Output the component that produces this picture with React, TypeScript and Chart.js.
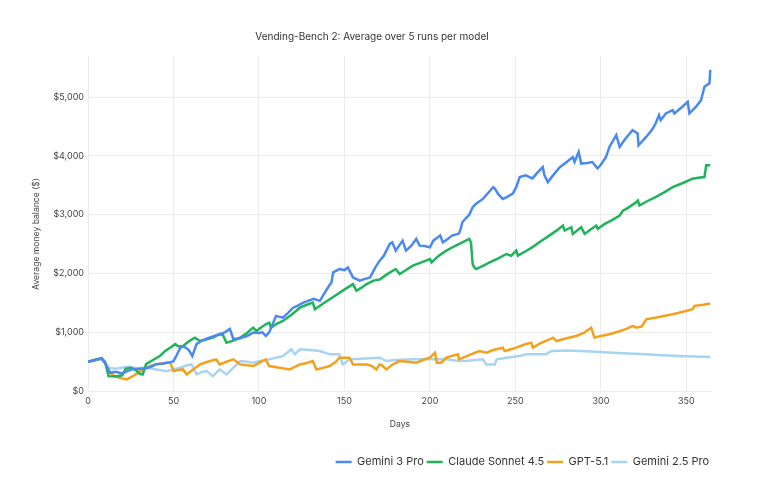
import React, { useEffect, useRef } from 'react';
import { Chart, registerables } from 'chart.js';

Chart.register(...registerables);

const chartTitle = 'Vending-Bench 2: Average over 5 runs per model';
const xAxisTitle = 'Days';
const yAxisTitle = 'Average money balance ($)';
const seriesNames = ['Gemini 3 Pro', 'Claude Sonnet 4.5', 'GPT-5.1', 'Gemini 2.5 Pro'];
const seriesColors = ['#4A8AF0', '#1FB35C', '#F2A11E', '#A8D4F4'];
const xTickValues = [0, 50, 100, 150, 200, 250, 300, 350];
const yTickValues = [0, 1000, 2000, 3000, 4000, 5000];

// [day, average money balance]
const gemini3Pro: [number, number][] = [
  [0, 500], [4, 530], [8, 560], [10, 480], [13, 313], [16, 330], [20, 300], [23, 340], [26, 375], [30, 380],
  [34, 390], [37, 420], [40, 460], [44, 470], [48, 490], [50, 510], [52, 620], [54, 740], [56, 760], [59, 700],
  [61, 597], [63.5, 800], [66, 850], [69, 887], [73, 930], [77, 970], [80, 1000], [83, 1058], [85, 887], [89, 900],
  [93, 938], [96.6, 996], [100, 990], [102, 1000], [104, 940], [106, 1000], [108, 1140], [110, 1280], [114, 1250],
  [117, 1330], [120, 1420], [123, 1460], [126, 1507], [129, 1540], [132, 1570], [135.6, 1536], [138, 1650],
  [141, 1792], [142.4, 1850], [143.4, 2020], [147, 2077], [150, 2060], [152, 2105], [155, 1934], [159, 1878],
  [162, 1910], [165, 1934], [168, 2100], [170.6, 2219], [173, 2300], [176.5, 2503], [178, 2530], [180, 2390],
  [184, 2560], [186, 2390], [189, 2470], [192, 2589], [194, 2475], [197, 2470], [200, 2446], [202, 2560],
  [206, 2646], [207.6, 2532], [210, 2580], [213, 2646], [217, 2680], [218, 2760], [219, 2873], [221, 2940],
  [223, 3000], [225, 3130], [227, 3186], [231, 3270], [234, 3370], [237, 3470], [238, 3447], [240, 3350],
  [242.6, 3270], [245, 3300], [248.5, 3360], [250.5, 3470], [252.5, 3640], [256, 3670], [260, 3619], [263, 3720],
  [266, 3812], [267, 3670], [269, 3556], [272, 3670], [276, 3810], [280, 3897], [283.6, 3980], [284.6, 3897],
  [287, 4068], [288.5, 3870], [292, 3880], [295, 3897], [298, 3790], [300, 3850], [303, 3983], [305, 4153],
  [309, 4353], [311, 4153], [314, 4280], [318.5, 4438], [321.5, 4381], [322, 4182], [326.5, 4324], [330, 4450],
  [332, 4552], [334, 4694], [335, 4609], [338, 4723], [342, 4780], [343, 4723], [347, 4820], [350.8, 4922],
  [351.8, 4723], [355.7, 4837], [358.6, 4950], [360.6, 5177], [363.5, 5234], [364, 5463],
];

const claudeSonnet45: [number, number][] = [
  [0, 500], [4, 530], [8, 560], [10, 500], [12, 256], [16, 250], [20, 270], [22, 380], [25, 398], [28, 360],
  [30, 300], [32, 285], [34, 460], [38, 530], [42, 597], [45, 680], [48, 740], [51, 800], [53, 760], [55.6, 768],
  [59, 850], [62.5, 910], [65.5, 853], [69, 880], [73, 910], [77, 970], [79, 950], [81, 825], [85, 860], [89, 910],
  [93, 990], [96.6, 1080], [98.6, 1024], [101, 1080], [104, 1138], [106, 1166], [107, 1080], [110, 1140],
  [114, 1195], [119, 1300], [124, 1420], [128, 1470], [131.5, 1507], [132.7, 1394], [138, 1500], [143, 1593],
  [149, 1710], [155, 1821], [157, 1707], [160, 1760], [163, 1821], [167, 1880], [170.6, 1900], [175, 1990],
  [180, 2077], [182.3, 1991], [186, 2060], [190, 2134], [195, 2190], [200, 2248], [201, 2190], [205, 2300],
  [209.6, 2390], [214, 2460], [219, 2530], [223, 2589], [224, 2532], [225, 2162], [226, 2105], [227, 2077],
  [231, 2130], [235, 2190], [240, 2260], [244.7, 2333], [247.6, 2304], [250.5, 2390], [251.5, 2304], [256, 2380],
  [260, 2450], [264, 2532], [270, 2650], [274, 2730], [277.8, 2816], [278.8, 2731], [282.7, 2788], [283.6, 2674],
  [286, 2730], [288.5, 2788], [290.5, 2674], [294, 2750], [297.3, 2816], [298.2, 2759], [302, 2840], [306, 2900],
  [311, 2987], [313, 3073], [315, 3100], [318, 3160], [320.6, 3214], [321.6, 3243], [322.6, 3158], [327, 3230],
  [332, 3300], [337, 3380], [342, 3470], [348, 3540], [353.6, 3613], [357, 3630], [360.6, 3641], [361.6, 3840],
  [364, 3840],
];

const gpt51: [number, number][] = [
  [0, 500], [4, 530], [8, 550], [10, 480], [12, 330], [15, 270], [18, 230], [22.6, 200], [26, 250], [30.4, 341],
  [33, 380], [36, 427], [40, 460], [43, 470], [46, 484], [48, 490], [50, 341], [53, 360], [55.6, 370], [57.7, 285],
  [61.5, 370], [65.5, 455], [70, 500], [75, 541], [77, 455], [81, 500], [85, 541], [89, 455], [93, 440],
  [96.6, 427], [100, 480], [104, 541], [106, 427], [112, 400], [118, 370], [124, 455], [128, 480], [131.5, 512],
  [133.6, 370], [138, 400], [141.4, 427], [145, 500], [147, 569], [153, 569], [155, 455], [163, 455], [166, 430],
  [168.7, 370], [170.6, 455], [172, 440], [174.5, 370], [178, 450], [182, 512], [187, 500], [192, 484], [196, 530],
  [200, 569], [203, 654], [204, 484], [206.7, 484], [209.6, 569], [213, 600], [216.4, 626], [217, 541], [222, 600],
  [226, 650], [229, 683], [233, 654], [237, 700], [242.7, 740], [243.7, 683], [247, 710], [250.5, 740], [255, 790],
  [259.3, 825], [260.2, 740], [265, 820], [270, 880], [272, 910], [274, 853], [280, 900], [285.6, 939], [290, 990],
  [294.3, 1080], [296.3, 910], [300, 940], [305, 967], [310, 1010], [315, 1060], [318.7, 1110], [320.7, 1080],
  [324, 1100], [326.5, 1223], [334, 1260], [342, 1309], [348, 1350], [353.7, 1394], [354.7, 1451], [360, 1470],
  [364, 1490],
];

const gemini25Pro: [number, number][] = [
  [0, 500], [4, 530], [7, 550], [10, 480], [12, 400], [16, 380], [20, 400], [24, 420], [28, 390], [32, 400],
  [36, 390], [40, 370], [46, 341], [50, 370], [54, 398], [58, 440], [60.6, 455], [63.5, 285], [66, 320],
  [69.4, 341], [73, 256], [77, 370], [81, 285], [85, 398], [89, 512], [93, 500], [96.6, 484], [100, 510],
  [106, 541], [110, 570], [114, 598], [119, 711], [121, 626], [124, 711], [130, 700], [135.6, 683], [141.4, 626],
  [147, 626], [149, 455], [153, 541], [160, 550], [170.6, 569], [174.5, 512], [180, 530], [190, 541], [200, 541],
  [209.6, 541], [215, 520], [221, 512], [231, 541], [233, 455], [238, 455], [239, 541], [245, 570], [252.5, 598],
  [256.4, 626], [268, 626], [271, 683], [280, 690], [287.5, 683], [297, 670], [307, 654], [316, 640], [326.5, 626],
  [336, 610], [346, 598], [355, 590], [364, 580],
];

const seriesData = [gemini3Pro, claudeSonnet45, gpt51, gemini25Pro];

const FONT = 'Inter, "Noto Sans", sans-serif';

export default function App() {
  const canvasRef = useRef<HTMLCanvasElement | null>(null);

  useEffect(() => {
    document.body.style.margin = '0';
    const canvas = canvasRef.current;
    if (!canvas) return;

    const titleShift = {
      id: 'titleShift',
      afterLayout(chart: any) {
        if (chart.titleBlock) {
          chart.titleBlock.left = 32;
          chart.titleBlock.right = 712;
        }
      },
    };

    const yTitlePlugin = {
      id: 'yTitlePlugin',
      afterDraw(chart: any) {
        const ctx = chart.ctx;
        ctx.save();
        ctx.translate(36, 234);
        ctx.rotate(-Math.PI / 2);
        ctx.fillStyle = '#444444';
        ctx.font = `8.6px ${FONT}`;
        ctx.textAlign = 'center';
        ctx.textBaseline = 'middle';
        ctx.fillText(yAxisTitle, 0, 0);
        ctx.restore();
      },
    };

    const chart = new Chart(canvas, {
      type: 'line',
      data: {
        datasets: seriesData.map((pts, i) => ({
          label: seriesNames[i],
          data: pts.map(([x, y]) => ({ x, y })),
          borderColor: seriesColors[i],
          backgroundColor: seriesColors[i],
          borderWidth: 2.5,
          pointRadius: 0,
          pointHoverRadius: 0,
          tension: 0,
          fill: false,
        })),
      },
      options: {
        animation: false,
        responsive: true,
        maintainAspectRatio: false,
        layout: { padding: { left: 0, right: 53, top: 0, bottom: 18.5 } },
        plugins: {
          title: {
            display: true,
            text: chartTitle,
            color: '#333333',
            font: { family: FONT, size: 10, weight: 'normal' },
            padding: { top: 31, bottom: 13 },
          },
          legend: {
            position: 'bottom',
            align: 'end',
            labels: {
              usePointStyle: true,
              pointStyle: 'line',
              pointStyleWidth: 16,
              color: '#333333',
              font: { family: FONT, size: 11 },
              padding: 3,
            },
          },
          tooltip: { enabled: false },
        },
        scales: {
          x: {
            type: 'linear',
            min: 0,
            max: 365,
            border: { display: false },
            grid: { color: '#ececec', drawTicks: false, lineWidth: 1 },
            afterBuildTicks: (scale: any) => {
              scale.ticks = xTickValues.map((v) => ({ value: v }));
            },
            ticks: {
              color: '#444444',
              font: { family: FONT, size: 9 },
              padding: 5,
              maxRotation: 0,
              autoSkip: false,
              callback: (v: any) => String(v),
            },
            title: {
              display: true,
              text: xAxisTitle,
              color: '#444444',
              font: { family: FONT, size: 8.6 },
              padding: { top: 7, bottom: 24.2 },
            },
          },
          y: {
            type: 'linear',
            min: 0,
            max: 5700,
            border: { display: false },
            grid: { color: '#ececec', drawTicks: false, lineWidth: 1 },
            afterFit: (scale: any) => {
              scale.width = 88;
            },
            afterBuildTicks: (scale: any) => {
              scale.ticks = yTickValues.map((v) => ({ value: v }));
            },
            ticks: {
              color: '#444444',
              font: { family: FONT, size: 9 },
              padding: 4,
              autoSkip: false,
              callback: (v: any) => '$' + Number(v).toLocaleString('en-US'),
            },
          },
        },
      },
      plugins: [titleShift, yTitlePlugin],
    });

    return () => chart.destroy();
  }, []);

  return (
    <div style={{ position: 'relative', width: 765, height: 496 }}>
      <canvas ref={canvasRef} />
    </div>
  );
}
